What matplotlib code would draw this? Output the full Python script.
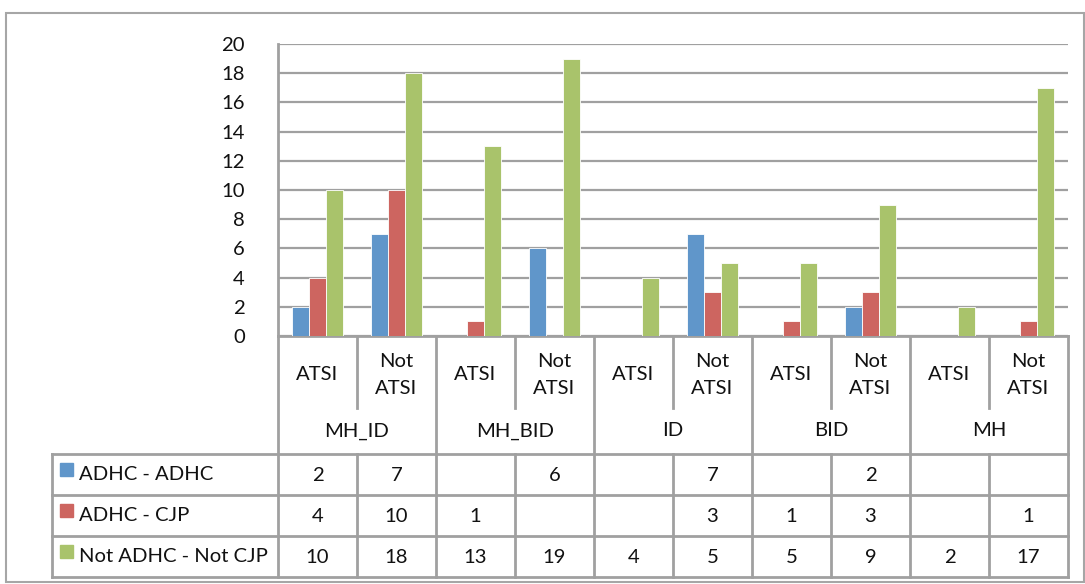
import numpy as np
import matplotlib
matplotlib.use("Agg")
import matplotlib.pyplot as plt
from matplotlib.patches import Rectangle

plt.rcParams['font.family'] = ['Lato', 'DejaVu Sans']

# ---- data ----
groups = ["MH_ID", "MH_BID", "ID", "BID", "MH"]
subgroups = ["ATSI", "Not\nATSI"]
series_names = ["ADHC - ADHC", "ADHC - CJP", "Not ADHC - Not CJP"]
adhc_adhc = [2, 7, None, 6, None, 7, None, 2, None, None]
adhc_cjp = [4, 10, 1, None, None, 3, 1, 3, None, 1]
not_adhc_not_cjp = [10, 18, 13, 19, 4, 5, 5, 9, 2, 17]
y_ticks = [0, 2, 4, 6, 8, 10, 12, 14, 16, 18, 20]

series = [adhc_adhc, adhc_cjp, not_adhc_not_cjp]
colors = ["#6096CA", "#CD6560", "#A9C36B"]
grid_c = "#A0A0A0"
txt_c = "#111111"
fs = 14.6

W, H = 1085, 584
fig = plt.figure(figsize=(W / 100, H / 100), dpi=100)

# pixel geometry
px_l, px_r, px_t, px_b = 278, 1068, 44, 336

# overlay axes in pixel coordinates for the data table and frame
ov = fig.add_axes([0, 0, 1, 1])
ov.set_xlim(0, W)
ov.set_ylim(H, 0)
ov.axis("off")

ax = fig.add_axes([px_l / W, 1 - px_b / H, (px_r - px_l) / W, (px_b - px_t) / H])
n = len(not_adhc_not_cjp)
x = np.arange(n)
bw = 0.215
for i, (vals, c) in enumerate(zip(series, colors)):
    v = np.array([np.nan if a is None else a for a in vals], dtype=float)
    ax.bar(x + (i - 1) * bw, v, width=bw, color=c, edgecolor="white",
           linewidth=0.6, zorder=3)
ax.set_xlim(-0.5, n - 0.5)
ax.set_ylim(0, 20)
ax.set_yticks(y_ticks)
ax.set_yticklabels([str(t) for t in y_ticks], fontsize=fs, color=txt_c)
ax.tick_params(axis="y", length=0, pad=24)
ax.tick_params(axis="x", length=0, labelbottom=False)
ax.yaxis.grid(True, color=grid_c, linewidth=1.6, zorder=0)
for s in ["top", "right"]:
    ax.spines[s].set_visible(False)
for s in ["left", "bottom"]:
    ax.spines[s].set_color(grid_c)
    ax.spines[s].set_linewidth(2)
ax.set_facecolor("none")

# outer chart frame
ov.add_patch(Rectangle((6, 13), 1078, 569, fill=False, edgecolor="#A6A6A6",
                       linewidth=1.5))

# data table below the axis
cw = (px_r - px_l) / n
row_sub_b = 408
row_grp_b = 454
row_h = 41
rows_b = [row_grp_b + row_h * (k + 1) for k in range(3)]
lw = 2

def col_x(k):
    return px_l + k * cw

# vertical lines
for k in range(n + 1):
    if k % 2 == 0:
        ov.plot([col_x(k)] * 2, [px_b, rows_b[-1]], color=grid_c, lw=lw)
    else:
        ov.plot([col_x(k)] * 2, [px_b, row_sub_b], color=grid_c, lw=lw)
        ov.plot([col_x(k)] * 2, [row_grp_b, rows_b[-1]], color=grid_c, lw=lw)
ov.plot([52, 52], [row_grp_b, rows_b[-1]], color=grid_c, lw=lw)

# horizontal lines
for yb in [row_grp_b] + rows_b:
    ov.plot([52, px_r], [yb, yb], color=grid_c, lw=lw)

# category labels
for k in range(n):
    cx = col_x(k) + cw / 2
    ov.text(cx, 375, subgroups[k % 2], ha="center",
            va="center", fontsize=fs, color=txt_c, linespacing=1.75)
for g, name in enumerate(groups):
    cx = col_x(2 * g) + cw
    ov.text(cx, (row_sub_b + row_grp_b) / 2, name, ha="center", va="center",
            fontsize=fs, color=txt_c)

# legend keys and values
for r, (vals, c, name) in enumerate(zip(series, colors, series_names)):
    top = row_grp_b + r * row_h
    cy = top + row_h / 2
    ov.add_patch(Rectangle((60, cy - 12), 13, 13, color=c))
    ov.text(79, cy, name, ha="left", va="center", fontsize=fs, color=txt_c)
    for k, v in enumerate(vals):
        if v is not None:
            ov.text(col_x(k) + cw / 2, cy + 1, str(v), ha="center",
                    va="center", fontsize=fs, color=txt_c)

fig.savefig("out.png", dpi=100, facecolor="white")
